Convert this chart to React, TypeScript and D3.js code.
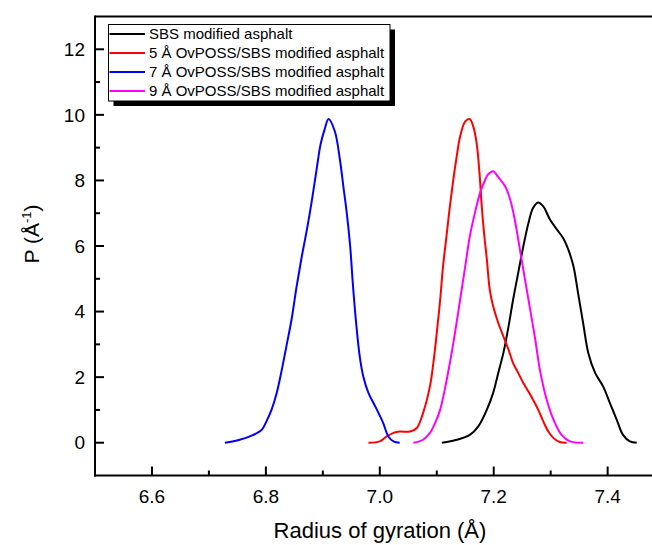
import React from 'react';
import * as d3 from 'd3';

const W = 652;
const H = 545;

const seriesNames = [
  'SBS modified asphalt',
  '5 Å OvPOSS/SBS modified asphalt',
  '7 Å OvPOSS/SBS modified asphalt',
  '9 Å OvPOSS/SBS modified asphalt',
];
const seriesColors = ['#000000', '#ff0000', '#0000ff', '#ff00ff'];

const blackX = [7.109, 7.135, 7.158, 7.173, 7.188, 7.199, 7.208, 7.217, 7.226, 7.234, 7.243, 7.252, 7.261, 7.269, 7.278, 7.287, 7.299, 7.311, 7.322, 7.331, 7.340, 7.348, 7.357, 7.366, 7.378, 7.392, 7.404, 7.416, 7.427, 7.439, 7.451];
const blackY = [0.0, 0.09, 0.24, 0.5, 1.01, 1.52, 2.13, 2.74, 3.55, 4.36, 5.18, 5.99, 6.7, 7.16, 7.33, 7.21, 6.8, 6.5, 6.24, 5.89, 5.38, 4.57, 3.65, 2.74, 2.13, 1.72, 1.21, 0.7, 0.24, 0.04, 0.0];

const redX = [6.98, 7.0, 7.012, 7.024, 7.035, 7.053, 7.065, 7.076, 7.088, 7.094, 7.1, 7.106, 7.111, 7.117, 7.123, 7.129, 7.135, 7.141, 7.15, 7.158, 7.164, 7.17, 7.175, 7.179, 7.183, 7.188, 7.193, 7.199, 7.208, 7.217, 7.226, 7.234, 7.243, 7.252, 7.261, 7.269, 7.278, 7.287, 7.296, 7.305, 7.316, 7.328];
const redY = [0.0, 0.04, 0.19, 0.3, 0.34, 0.34, 0.45, 0.91, 1.72, 2.43, 3.35, 4.36, 5.38, 6.29, 7.21, 8.02, 8.73, 9.34, 9.8, 9.87, 9.65, 9.14, 8.23, 7.21, 6.4, 5.58, 4.67, 4.16, 3.65, 3.24, 2.84, 2.43, 2.13, 1.82, 1.56, 1.31, 1.01, 0.65, 0.34, 0.14, 0.02, 0.0];

const blueX = [6.728, 6.754, 6.778, 6.793, 6.801, 6.81, 6.819, 6.828, 6.836, 6.845, 6.854, 6.863, 6.872, 6.88, 6.889, 6.896, 6.903, 6.91, 6.921, 6.93, 6.936, 6.942, 6.948, 6.953, 6.959, 6.965, 6.971, 6.98, 6.992, 7.006, 7.015, 7.024, 7.035];
const blueY = [0.0, 0.09, 0.24, 0.4, 0.65, 1.01, 1.52, 2.23, 2.94, 3.75, 4.77, 5.68, 6.5, 7.31, 8.33, 9.1, 9.55, 9.87, 9.5, 8.63, 7.82, 7.01, 5.99, 4.77, 3.55, 2.6, 2.02, 1.52, 1.11, 0.6, 0.19, 0.04, 0.0];

const magentaX = [7.059, 7.076, 7.088, 7.097, 7.106, 7.114, 7.123, 7.132, 7.141, 7.15, 7.158, 7.167, 7.176, 7.185, 7.19, 7.199, 7.208, 7.22, 7.229, 7.237, 7.246, 7.255, 7.264, 7.273, 7.281, 7.293, 7.305, 7.319, 7.334, 7.357];
const magentaY = [0.0, 0.09, 0.3, 0.6, 1.01, 1.62, 2.43, 3.35, 4.36, 5.38, 6.29, 7.01, 7.62, 8.02, 8.18, 8.28, 8.1, 7.82, 7.41, 6.8, 5.89, 4.97, 4.06, 3.14, 2.23, 1.31, 0.7, 0.24, 0.04, 0.0];

const xMajorTicks = [6.6, 6.8, 7.0, 7.2, 7.4];
const xMinorTicks = [6.7, 6.9, 7.1, 7.3];
const yMajorTicks = [0, 2, 4, 6, 8, 10, 12];
const yMinorTicks = [1, 3, 5, 7, 9, 11];

const xTitle = 'Radius of gyration (Å)';

const FONT = '"Liberation Sans", Arial, sans-serif';

export default function App() {
  const left = 95;
  const bottom = 475.5;
  const top = 16.5;
  const x = d3.scaleLinear().domain([6.5, 7.5]).range([left, 664.6]);
  const y = d3.scaleLinear().domain([-1, 13]).range([bottom, top]);

  const series = [
    { xs: blackX, ys: blackY },
    { xs: redX, ys: redY },
    { xs: blueX, ys: blueY },
    { xs: magentaX, ys: magentaY },
  ];
  const line = d3
    .line<[number, number]>()
    .x((d) => x(d[0]))
    .y((d) => y(d[1]))
    .curve(d3.curveCatmullRom.alpha(0.5));

  const legX = 108.5;
  const legY = 24.5;
  const legW = 281.5;
  const legH = 76.5;
  const rowY = [34, 53, 72, 91];

  return (
    <svg
      width={W}
      height={H}
      style={{ position: 'absolute', left: 0, top: 0, background: '#fff' }}
      fontFamily={FONT}
    >
      <rect x={0} y={0} width={W} height={H} fill="#fff" />
      {series.map((s, i) => (
        <path
          key={i}
          d={line(s.xs.map((v, j) => [v, s.ys[j]] as [number, number])) || ''}
          fill="none"
          stroke={seriesColors[i]}
          strokeWidth={2}
          strokeLinejoin="round"
        />
      ))}
      <line x1={left} x2={W} y1={top} y2={top} stroke="#000" strokeWidth={2} />
      <line x1={left} x2={left} y1={top - 1} y2={bottom + 1} stroke="#000" strokeWidth={2} />
      <line x1={left - 1} x2={W} y1={bottom} y2={bottom} stroke="#000" strokeWidth={2} />
      {xMajorTicks.map((t) => (
        <g key={'xm' + t}>
          <line x1={x(t)} x2={x(t)} y1={bottom} y2={bottom - 9} stroke="#000" strokeWidth={2} />
          <text x={x(t)} y={503} fontSize={19} textAnchor="middle" fill="#000">
            {t.toFixed(1)}
          </text>
        </g>
      ))}
      {xMinorTicks.map((t) => (
        <line key={'xn' + t} x1={x(t)} x2={x(t)} y1={bottom} y2={bottom - 5} stroke="#000" strokeWidth={2} />
      ))}
      {yMajorTicks.map((t) => (
        <g key={'ym' + t}>
          <line x1={left} x2={left + 9} y1={y(t)} y2={y(t)} stroke="#000" strokeWidth={2} />
          <text x={85} y={y(t)} dy="0.35em" fontSize={19} textAnchor="end" fill="#000">
            {t}
          </text>
        </g>
      ))}
      {yMinorTicks.map((t) => (
        <line key={'yn' + t} x1={left} x2={left + 5} y1={y(t)} y2={y(t)} stroke="#000" strokeWidth={2} />
      ))}
      <text x={380} y={538} fontSize={22} textAnchor="middle" fill="#000">
        {xTitle}
      </text>
      <text transform="translate(39,234) rotate(-90)" fontSize={21} textAnchor="middle" fill="#000">
        P (Å
        <tspan dy={-8} fontSize={13}>-1</tspan>
        <tspan dy={8}>)</tspan>
      </text>
      <rect x={legX + 5} y={legY + 5} width={legW} height={legH} fill="#000" />
      <rect x={legX} y={legY} width={legW} height={legH} fill="#fff" stroke="#000" strokeWidth={1} />
      {seriesNames.map((n, i) => (
        <g key={n}>
          <line x1={legX + 1} x2={145} y1={rowY[i]} y2={rowY[i]} stroke={seriesColors[i]} strokeWidth={2} />
          <text x={149} y={rowY[i]} dy="0.35em" fontSize={15} fill="#000">
            {n}
          </text>
        </g>
      ))}
    </svg>
  );
}
